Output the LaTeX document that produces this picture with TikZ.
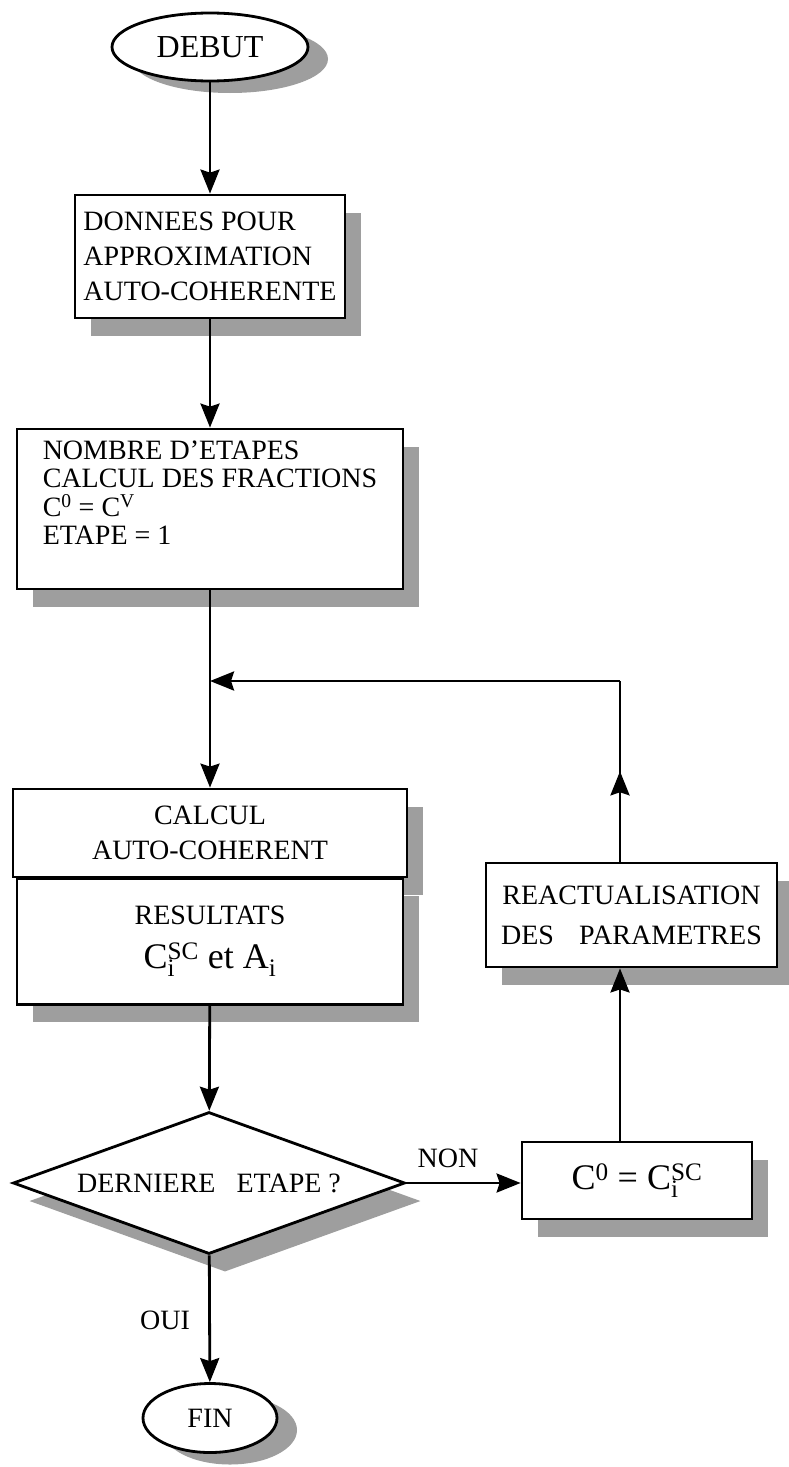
\documentclass[tikz,border=0pt]{standalone}
\usepackage{fontspec}
\setmainfont{Liberation Serif}
\usetikzlibrary{positioning,arrows.meta,shapes.geometric,shadows,decorations.markings}

\newcommand{\Csc}{C\rlap{\textsubscript{i}}\textsuperscript{SC}}

\begin{document}
\begin{tikzpicture}[
  x=1pt, y=-1pt,
  every node/.style={font=\fontsize{28}{35}\selectfont},
  shadowed/.style={
    drop shadow={shadow xshift=16pt, shadow yshift=-18pt, fill=black!38, opacity=1}
  },
  box/.style={
    rectangle, draw=black, line width=2.8pt, fill=white, shadowed,
    inner sep=0pt, align=center
  },
  term/.style={
    ellipse, draw=black, line width=2.8pt, fill=white, inner sep=0pt,
    drop shadow={shadow xshift=20pt, shadow yshift=-12pt, fill=black!38, opacity=1}
  },
  test/.style={
    diamond, draw=black, line width=2.8pt, fill=white, shadowed,
    inner sep=0pt, aspect=2.76
  },
  tip/.style={-{Stealth[length=24pt, width=19pt, inset=3pt]}},
  arr/.style={tip, line width=2.8pt},
  midarr/.style={
    line width=2.8pt, postaction={decorate},
    decoration={markings, mark=at position 0.5 with {\arrow{Stealth[length=24pt, width=19pt, inset=3pt]}}}
  },
  lbl/.style={inner sep=0pt}
]
\useasboundingbox (0,0) rectangle (789,1467);

% main column
\node[term, minimum width=196pt, minimum height=68pt, font=\fontsize{32}{38}\selectfont] (debut) at (210,47) {DEBUT};

\node[box, minimum width=270pt, minimum height=123pt, align=left] (data) at (210,256.5)
  {DONNEES POUR\\APPROXIMATION\\AUTO-COHERENTE};
\draw[arr] (debut) -- (data);

\node[box, minimum width=386pt, minimum height=160pt, align=left, text depth=33pt,
  font=\fontsize{28}{28.5}\selectfont] (init) at (210,509)
  {NOMBRE D'ETAPES\\CALCUL DES FRACTIONS\\C\textsuperscript{0} = C\textsuperscript{V}\\ETAPE = 1};
\draw[arr] (data) -- (init);

\node[box, minimum width=394pt, minimum height=88pt] (calc) at (210,833) {CALCUL\\AUTO-COHERENT};
\draw[arr] (init) -- (calc);

\node[box, minimum width=386pt, minimum height=126pt, below=-1.5pt of calc] (res)
  {RESULTATS\\[9pt]{\fontsize{36}{40}\selectfont \Csc{} et A\textsubscript{i}}};

\node[test, minimum width=392pt, minimum height=142pt] (last) at (209,1183) {DERNIERE\ \ \ ETAPE ?};
\draw[arr] (res) -- (last);

\node[term, minimum width=134pt, minimum height=69pt] (fin) at (210,1418) {FIN};
\draw[arr] (last) -- (fin);
\node[lbl] (oui) at (165,1320) {OUI};

% update loop
\node[box, minimum width=230pt, minimum height=77pt, font=\fontsize{36}{40}\selectfont] (upd) at (637,1180.5)
  {C\textsuperscript{0} = \Csc};
\draw[arr] (last.east) -- (last.east -| upd.west);
\node[lbl] (non) at (448,1158) {NON};

\node[box, minimum width=291pt, minimum height=104pt, font=\fontsize{28}{40}\selectfont] (react) at (631.5,915)
  {REACTUALISATION\\DES\hspace{0.9em}PARAMETRES};

\coordinate (loopL) at (210,681);
\coordinate (loopR) at (620,681);
\draw[arr] (upd.north -| loopR) -- (react.south -| loopR);
\draw[midarr] (react.north -| loopR) -- (loopR);
\draw[arr] (loopR) -- (loopL);

\end{tikzpicture}
\end{document}
